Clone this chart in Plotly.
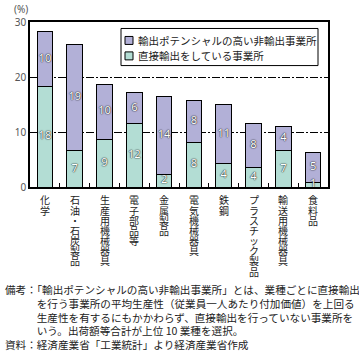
import plotly.graph_objects as go

categories = ["化学", "石油・石炭製品", "生産用機械器具", "電子部品等", "金属製品",
              "電気機械器具", "鉄鋼", "プラスチック製品", "輸送用機械器具", "食料品"]
direct_export = [18.3, 6.6, 8.7, 11.6, 2.3, 8.1, 4.3, 3.6, 6.6, 0.9]
potential_nonexport = [10.0, 19.3, 10.0, 5.6, 14.2, 7.7, 10.7, 7.9, 4.4, 5.4]
series_names = ["直接輸出をしている事業所", "輸出ポテンシャルの高い非輸出事業所"]
y_ticks = [0, 10, 20, 30]

GREEN = "#b3ddd4"
PURPLE = "#b2b0d7"
JP = "Noto Sans CJK JP"

W, H = 359, 351
L, R, T, B = 30, 328, 22, 187.5


def px(x):
    return (x - L) / (R - L)


def py(y):
    return (B - y) / (B - T)


fig = go.Figure()
for vals, col, name in [(direct_export, GREEN, series_names[0]),
                        (potential_nonexport, PURPLE, series_names[1])]:
    fig.add_trace(go.Bar(x=categories, y=vals, name=name,
                         marker=dict(color=col, line=dict(color="black", width=1)),
                         width=0.52, showlegend=False, hoverinfo="x+y+name"))

# value labels on top of all bars, at segment midpoints
mid_green = [g / 2 for g in direct_export]
mid_purple = [g + p / 2 for g, p in zip(direct_export, potential_nonexport)]
txtfont = dict(color="#ffffff", size=11, family="Noto Sans",
               shadow="0px 0px 1.5px #000000, 0px 0px 1px #222222")
for mids, vals in [(mid_green, direct_export), (mid_purple, potential_nonexport)]:
    fig.add_trace(go.Scatter(x=categories, y=mids, mode="text",
                             text=[f"{v:.0f}" for v in vals], textposition="middle center",
                             textfont=txtfont, showlegend=False, hoverinfo="skip",
                             cliponaxis=False))

shapes = []
annotations = []
# manual legend
shapes.append(dict(type="rect", xref="paper", yref="paper",
                   x0=px(121), x1=px(318), y0=py(28.5), y1=py(65.7),
                   line=dict(color="black", width=1), fillcolor="white", layer="above"))
for (cy, col, name) in [(40.5, PURPLE, series_names[1]), (56, GREEN, series_names[0])]:
    shapes.append(dict(type="rect", xref="paper", yref="paper",
                       x0=px(125), x1=px(133), y0=py(cy - 4), y1=py(cy + 4),
                       line=dict(color="black", width=1), fillcolor=col, layer="above"))
    annotations.append(dict(text=name, xref="paper", yref="paper", x=px(136), y=py(cy),
                            xanchor="left", yanchor="middle", showarrow=False,
                            font=dict(family=JP, size=10.5, color="#222")))

annotations.append(dict(text="(%)", xref="paper", yref="paper", x=px(21), y=py(9),
                        xanchor="center", yanchor="middle", showarrow=False,
                        font=dict(family="Noto Sans", size=10, color="#555")))

# vertical (tategaki) category labels, one character per row
for idx, cat in enumerate(categories):
    for i, ch in enumerate(cat):
        annotations.append(dict(text=ch, xref="x", yref="paper", x=idx,
                                y=py(200.5 + i * 10.2), xanchor="center", yanchor="middle",
                                showarrow=False, borderpad=0,
                                font=dict(family=JP, size=10, color="#222")))

notes = ("備考：「輸出ポテンシャルの高い非輸出事業所」とは、業種ごとに直接輸出<br>"
         "　　　を行う事業所の平均生産性（従業員一人あたり付加価値）を上回る<br>"
         "　　　生産性を有するにもかかわらず、直接輸出を行っていない事業所を<br>"
         "　　　いう。出荷額等合計が上位 10 業種を選択。<br>"
         "資料：経済産業省「工業統計」より経済産業省作成")
annotations.append(dict(text=notes, xref="paper", yref="paper", x=px(3), y=py(281),
                        xanchor="left", yanchor="top", align="left", showarrow=False,
                        font=dict(family=JP, size=10.6, color="#222")))

fig.update_layout(
    width=W, height=H,
    margin=dict(l=L, r=W - R, t=T, b=H - B, pad=0),
    barmode="stack",
    plot_bgcolor="white", paper_bgcolor="white",
    shapes=shapes, annotations=annotations,
    showlegend=False,
    font=dict(family=JP, color="#222"),
)
fig.update_xaxes(type="category", categoryorder="array", categoryarray=categories,
                 showline=True, linecolor="black", linewidth=1.5,
                 mirror=True, ticks="inside", tickson="boundaries", ticklen=4,
                 tickcolor="black", showticklabels=False, showgrid=False)
fig.update_yaxes(range=[0, 30], tickvals=y_ticks, showline=True, linecolor="black",
                 linewidth=1.5, mirror=True, ticks="", showgrid=True, gridcolor="black",
                 gridwidth=1, griddash="8px,2px,2px,2px", zeroline=False,
                 tickfont=dict(family="Noto Sans", size=10, color="#555"))

fig.write_html("out.html")
